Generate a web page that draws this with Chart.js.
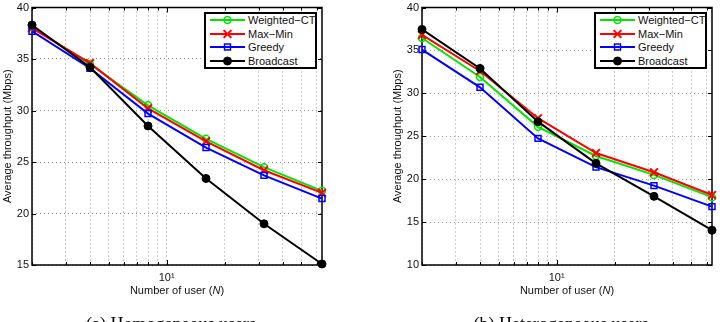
<!DOCTYPE html>
<html>
<head>
<meta charset="utf-8">
<title>Average throughput vs number of users</title>
<script src="https://cdn.jsdelivr.net/npm/chart.js@4.4.1/dist/chart.umd.min.js"></script>
<style>
  html, body { margin: 0; padding: 0; background: #fff; }
  body { width: 725px; height: 322px; position: relative; overflow: hidden; font-family: 'Liberation Sans', Arial, sans-serif; color: #111; }
  .panel { position: absolute; top: 0; width: 342px; height: 322px; }
  .panel canvas { position: absolute; left: 0; top: 0; }
  .legend { position: absolute; left: 204px; top: 12px; width: 109px; height: 53px; border: 2px solid #000; background: #fff; }
  .legend .row { position: absolute; left: 4px; height: 12px; font-size: 11px; line-height: 12px; white-space: nowrap; }
  .legend svg { position: absolute; left: 0; top: 1px; }
  .legend span { position: absolute; left: 38px; top: 0; }
  .xtitle { position: absolute; left: 32px; width: 290px; top: 285px; text-align: center; font-size: 11px; line-height: 11px; white-space: nowrap; }
  .caption { position: absolute; left: 0; width: 342px; top: 315px; text-align: center; font-family: 'Liberation Serif', 'Times New Roman', serif; font-size: 18px; line-height: 18px; white-space: nowrap; color: #000; }
</style>
</head>
<body>

<div class="panel" style="left:0px">
  <canvas id="chartA" width="335" height="300"></canvas>
  <div class="legend" id="legendA"></div>
  <div class="xtitle">Number of user (<i>N</i>)</div>
  <div class="caption">(a) Homogeneous users</div>
</div>

<div class="panel" style="left:390px">
  <canvas id="chartB" width="335" height="300"></canvas>
  <div class="legend" id="legendB"></div>
  <div class="xtitle">Number of user (<i>N</i>)</div>
  <div class="caption">(b) Heterogeneous users</div>
</div>

<script>
// Data
const users = [2, 4, 8, 16, 32, 64];
const xGridTicks = [2, 3, 4, 5, 6, 7, 8, 9, 10, 20, 30, 40, 50, 60];
const seriesNames = ['Weighted\u2212CT', 'Max\u2212Min', 'Greedy', 'Broadcast'];

// (a) Homogeneous users
const homWeightedCT = [38.1, 34.5, 30.5, 27.25, 24.5, 22.2];
const homMaxMin     = [38.0, 34.6, 30.2, 27.0, 24.2, 22.0];
const homGreedy     = [37.7, 34.1, 29.7, 26.4, 23.7, 21.45];
const homBroadcast  = [38.3, 34.2, 28.5, 23.4, 19.0, 15.1];

// (b) Heterogeneous users
const hetWeightedCT = [36.45, 31.9, 26.1, 22.7, 20.5, 17.9];
const hetMaxMin     = [36.8, 32.6, 27.1, 23.05, 20.8, 18.15];
const hetGreedy     = [35.1, 30.7, 24.75, 21.4, 19.25, 16.8];
const hetBroadcast  = [37.45, 32.9, 26.7, 21.85, 18.0, 14.05];

const FONT = "'Liberation Sans', Arial, sans-serif";

// Styles (MATLAB-like)
const seriesStyles = [
    { color: '#00e600', pointStyle: 'circle', radius: 3.5, fill: 'rgba(0,0,0,0)', pointWidth: 1.5, order: 4 },
    { color: '#ff0000', pointStyle: 'crossRot', radius: 5.5, fill: 'rgba(0,0,0,0)', pointWidth: 2, order: 3 },
    { color: '#0000ff', pointStyle: 'rect', radius: 4.2, fill: 'rgba(0,0,0,0)', pointWidth: 1.5, order: 2 },
    { color: '#000000', pointStyle: 'circle', radius: 4, fill: '#000000', pointWidth: 1, order: 1 }
];

// Box + inward ticks, drawn under the data
const boxPlugin = {
    id: 'box',
    beforeDatasetsDraw(chart) {
        const { ctx, chartArea: a, scales } = chart;
        ctx.save();
        ctx.strokeStyle = '#000';
        ctx.lineWidth = 1;
        ctx.beginPath();
        scales.x.ticks.forEach(t => {
            const px = Math.round(scales.x.getPixelForValue(t.value)) + 0.5;
            const len = t.value === 10 ? 5 : 3;
            ctx.moveTo(px, a.bottom); ctx.lineTo(px, a.bottom - len);
            ctx.moveTo(px, a.top); ctx.lineTo(px, a.top + len);
        });
        scales.y.ticks.forEach(t => {
            const py = Math.round(scales.y.getPixelForValue(t.value)) + 0.5;
            ctx.moveTo(a.left, py); ctx.lineTo(a.left + 4, py);
            ctx.moveTo(a.right, py); ctx.lineTo(a.right - 4, py);
        });
        ctx.stroke();
        ctx.lineWidth = 1.5;
        ctx.strokeRect(a.left, a.top, a.width, a.height);
        ctx.restore();
    }
};

function makeChart(canvasId, yMin, yMax, values) {
    const datasets = values.map((vals, i) => {
        const s = seriesStyles[i];
        return {
            label: seriesNames[i],
            data: users.map((n, j) => ({ x: n, y: vals[j] })),
            borderColor: s.color,
            borderWidth: 2,
            pointStyle: s.pointStyle,
            pointRadius: s.radius,
            pointBorderColor: s.color,
            pointBackgroundColor: s.fill,
            pointBorderWidth: s.pointWidth,
            tension: 0,
            clip: false,
            order: s.order
        };
    });

    return new Chart(document.getElementById(canvasId), {
        type: 'line',
        data: { datasets: datasets },
        options: {
            responsive: false,
            animation: false,
            events: [],
            layout: { padding: { top: 6, right: 13, left: 0, bottom: 0 } },
            plugins: { legend: { display: false }, tooltip: { enabled: false } },
            scales: {
                x: {
                    type: 'logarithmic',
                    min: 2,
                    max: 64,
                    afterBuildTicks: scale => { scale.ticks = xGridTicks.map(v => ({ value: v })); },
                    afterFit: scale => { scale.height = 35; scale.paddingLeft = 0; scale.paddingRight = 0; },
                    grid: { color: '#9a9a9a', lineWidth: 1, drawTicks: false, borderDash: [1, 3] },
                    border: { display: false, dash: [1, 3] },
                    ticks: {
                        autoSkip: false,
                        maxRotation: 0,
                        padding: 6,
                        color: '#111',
                        font: { family: FONT, size: 11 },
                        callback: v => (v === 10 ? '10\u00b9' : '')
                    }
                },
                y: {
                    min: yMin,
                    max: yMax,
                    afterFit: scale => { scale.width = 32; scale.paddingTop = 0; scale.paddingBottom = 0; },
                    grid: { color: '#9a9a9a', lineWidth: 1, drawTicks: false, borderDash: [1, 3] },
                    border: { display: false, dash: [1, 3] },
                    ticks: {
                        stepSize: 5,
                        padding: 3,
                        color: '#111',
                        font: { family: FONT, size: 11 }
                    },
                    title: {
                        display: true,
                        text: 'Average throughput (Mbps)',
                        color: '#111',
                        font: { family: FONT, size: 11 },
                        padding: { top: 1, bottom: 0 }
                    }
                }
            }
        },
        plugins: [boxPlugin]
    });
}

function markerSvg(s) {
    const c = s.color;
    let m = '';
    if (s.pointStyle === 'circle') {
        m = `<circle cx="17.5" cy="5" r="${s.radius}" fill="${s.fill === '#000000' ? c : 'none'}" stroke="${c}" stroke-width="${s.pointWidth}"/>`;
    } else if (s.pointStyle === 'crossRot') {
        const d = s.radius * Math.SQRT1_2;
        m = `<path d="M${17.5 - d} ${5 - d}L${17.5 + d} ${5 + d}M${17.5 - d} ${5 + d}L${17.5 + d} ${5 - d}" stroke="${c}" stroke-width="${s.pointWidth}"/>`;
    } else {
        const h = s.radius * Math.SQRT1_2;
        m = `<rect x="${17.5 - h}" y="${5 - h}" width="${2 * h}" height="${2 * h}" fill="none" stroke="${c}" stroke-width="${s.pointWidth}"/>`;
    }
    return `<svg width="35" height="10"><line x1="0" y1="5" x2="35" y2="5" stroke="${c}" stroke-width="2"/>${m}</svg>`;
}

function buildLegend(id) {
    const box = document.getElementById(id);
    seriesNames.forEach((name, i) => {
        const row = document.createElement('div');
        row.className = 'row';
        row.style.top = (i * 13.7) + 'px';
        row.innerHTML = markerSvg(seriesStyles[i]) + '<span>' + name + '</span>';
        box.appendChild(row);
    });
}

makeChart('chartA', 15, 40, [homWeightedCT, homMaxMin, homGreedy, homBroadcast]);
makeChart('chartB', 10, 40, [hetWeightedCT, hetMaxMin, hetGreedy, hetBroadcast]);
buildLegend('legendA');
buildLegend('legendB');
</script>
</body>
</html>
